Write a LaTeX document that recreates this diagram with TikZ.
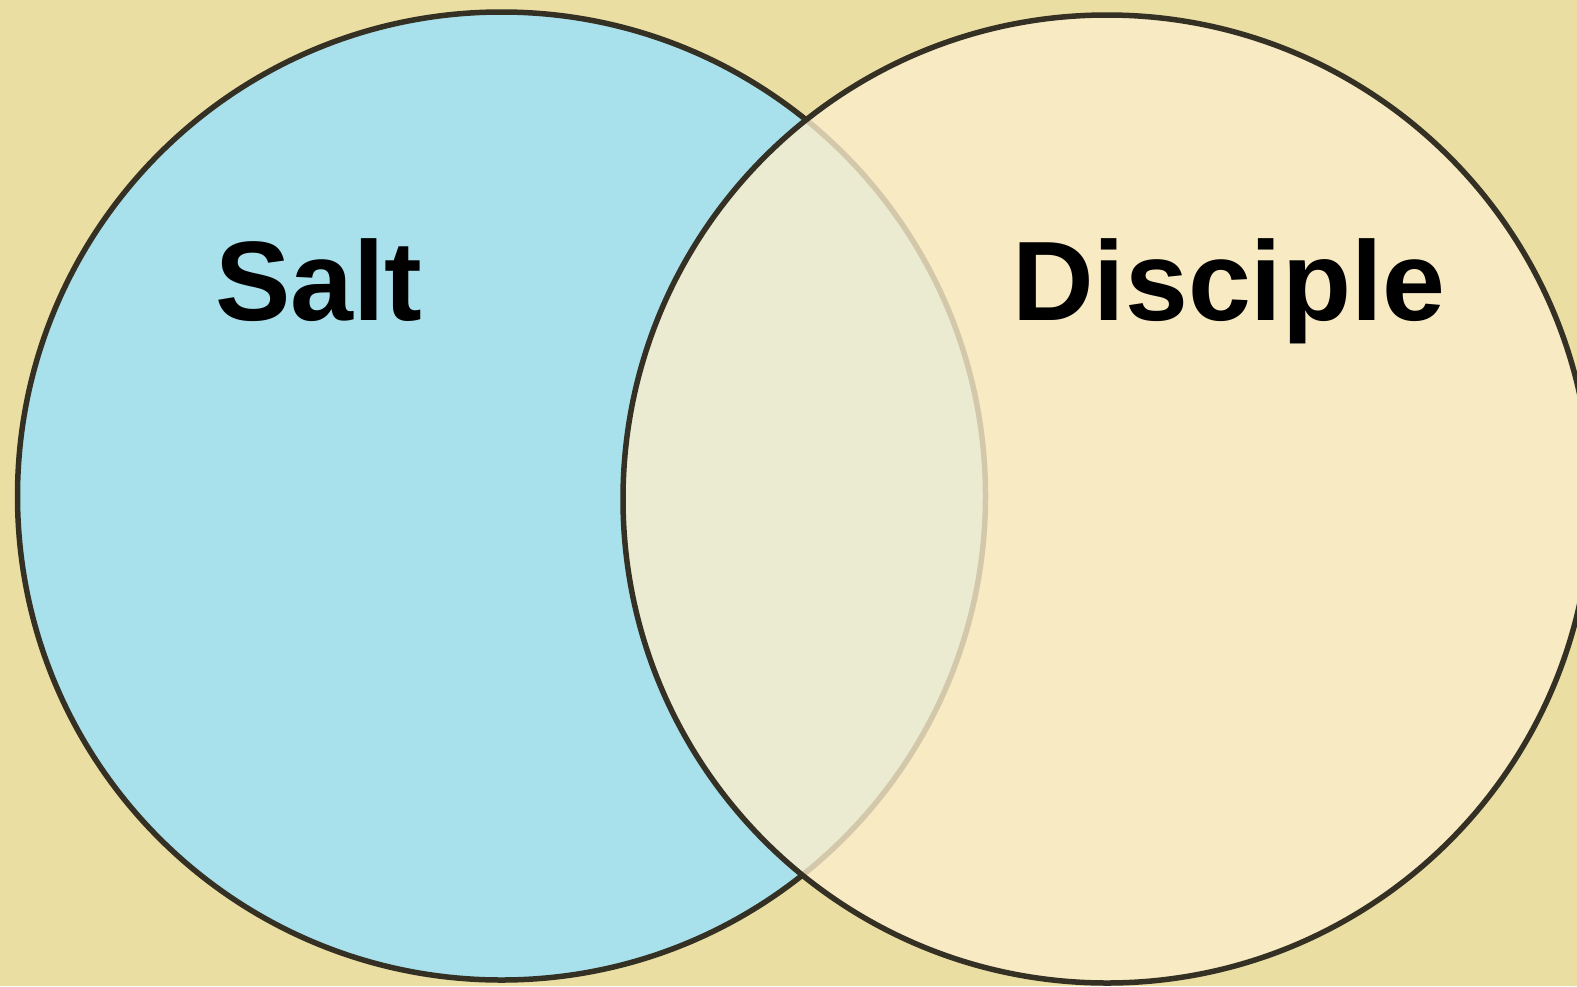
\documentclass[tikz,border=0pt]{standalone}
\usepackage{fontspec}
\setmainfont{Liberation Sans}
\definecolor{bgtan}{RGB}{234,222,162}
\definecolor{saltblue}{RGB}{168,225,235}
\definecolor{creamfill}{RGB}{252,238,204}
\definecolor{rimline}{RGB}{52,48,36}
\tikzset{
  vennlabel/.style={inner sep=0pt, anchor=base west, font=\fontsize{113}{125}\selectfont\bfseries, text=black},
  rim/.style={draw=rimline, line width=5.5pt}
}
\begin{document}
\begin{tikzpicture}[x=1pt,y=-1pt]
\useasboundingbox (0,0) rectangle (1577,986);
\fill[bgtan] (0,0) rectangle (1577,986);
\fill[saltblue] (501.5,496) circle[radius=484];
\draw[rim] (501.5,496) circle[radius=484];
\fill[creamfill, fill opacity=0.8] (1107,499) circle[radius=484];
\draw[rim] (1107,499) circle[radius=484];
\node[vennlabel] (salt) at (215,320) {Salt};
\node[vennlabel] (disciple) at (1012,320) {Disciple};
\end{tikzpicture}
\end{document}
